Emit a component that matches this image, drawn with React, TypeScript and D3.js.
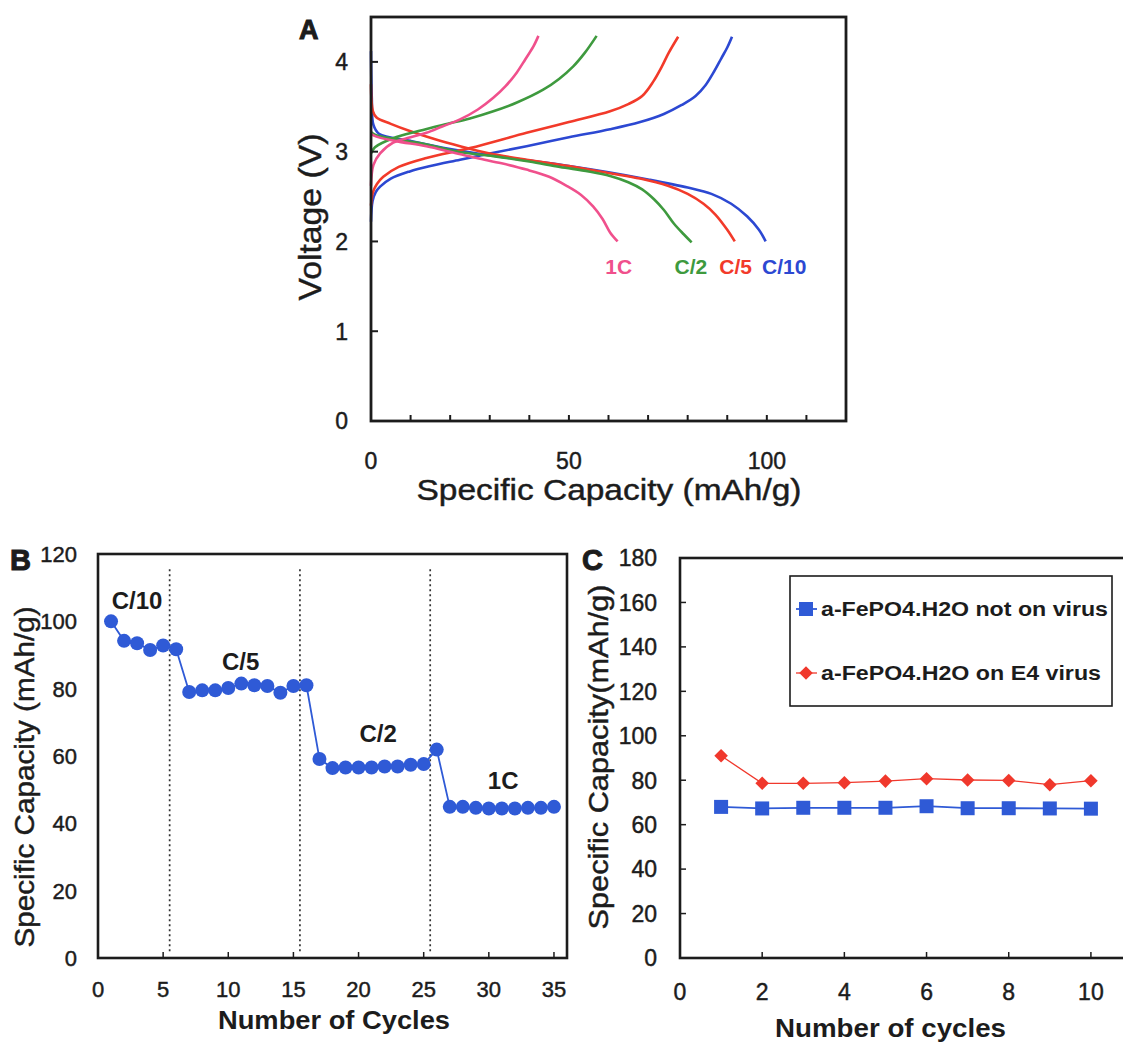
import React from "react";
import * as d3 from "d3";

// ---------- Panel A data: [capacity mAh/g, voltage V] ----------
const chargeC10: [number, number][] = [[0,2.22],[0.4,2.45],[1.2,2.55],[2.3,2.61],[5,2.7],[9.8,2.78],[15,2.84],[22.5,2.91],[30,2.98],[39.3,3.06],[50,3.16],[60.4,3.25],[68,3.33],[74,3.42],[78.5,3.52],[82,3.62],[84.5,3.74],[86.5,3.88],[88.5,4.04],[90,4.16],[91.2,4.28]];
const chargeC5: [number, number][] = [[0,2.4],[0.5,2.55],[1.5,2.64],[3.1,2.72],[7,2.83],[14,2.93],[25,3.04],[39.3,3.21],[50,3.33],[60.4,3.45],[65,3.53],[68.5,3.62],[71.3,3.78],[73.5,3.95],[75.2,4.1],[77.6,4.28]];
const chargeC2: [number, number][] = [[0,2.98],[1,3.05],[5.6,3.15],[12,3.23],[18.3,3.3],[25,3.37],[30.9,3.45],[37,3.55],[43.5,3.69],[47.5,3.81],[51.1,3.95],[54,4.1],[57,4.29]];
const charge1C: [number, number][] = [[0,2.62],[0.6,2.85],[2.3,2.98],[5.6,3.1],[10,3.16],[14,3.21],[18,3.28],[22.5,3.36],[27,3.47],[30.9,3.6],[34,3.73],[36.8,3.88],[39,4.03],[41,4.17],[42.3,4.29]];
const dischargeC10: [number, number][] = [[0,4.12],[0.2,3.6],[0.6,3.3],[2,3.2],[10,3.12],[20,3.03],[30,2.96],[40,2.9],[50,2.84],[60,2.77],[70,2.69],[80,2.6],[86,2.53],[91,2.42],[95,2.28],[98,2.13],[99.7,2.0]];
const dischargeC5: [number, number][] = [[0,3.75],[0.5,3.45],[1.4,3.38],[5,3.31],[9.8,3.23],[16,3.14],[22.5,3.06],[30,2.98],[39.3,2.91],[50,2.84],[60.4,2.76],[68,2.7],[75,2.62],[80,2.53],[84,2.42],[87,2.3],[90,2.13],[91.9,2.0]];
const dischargeC2: [number, number][] = [[0,3.22],[1,3.19],[6,3.14],[14,3.08],[22,3.0],[30.9,2.95],[40,2.89],[47.7,2.83],[55,2.78],[60.4,2.73],[65,2.66],[68.5,2.58],[71.5,2.47],[74,2.35],[76.5,2.2],[79,2.08],[81,1.99]];
const discharge1C: [number, number][] = [[0,3.2],[1.2,3.17],[6,3.12],[14,3.06],[20,3.0],[26.7,2.93],[33,2.87],[39.3,2.8],[45,2.72],[49.4,2.62],[53,2.52],[56.1,2.39],[58.5,2.25],[60.4,2.1],[62.3,2.0]];
const rateNamesA = ["1C", "C/2", "C/5", "C/10"];
const rateLabelCapA = [62.6, 80.8, 92.1, 104.4];
const rateColorsA = ["#f0508c", "#3e9a3e", "#f23a2a", "#2c48d2"];
const xTicksA = [0, 50, 100];
const xMinorA = [10, 20, 30, 40, 60, 70, 80, 90, 110];
const yTicksA = [0, 1, 2, 3, 4];

// ---------- Panel B data ----------
const cyclesB = Array.from({ length: 35 }, (_, i) => i + 1);
const capacityB = [100, 94.2, 93.5, 91.5, 92.8, 91.7, 79, 79.5, 79.5, 80.2, 81.5, 81, 80.8, 78.8, 80.8, 81, 59.1, 56.4, 56.6, 56.6, 56.6, 56.9, 56.9, 57.4, 57.6, 61.9, 44.9, 44.9, 44.6, 44.4, 44.4, 44.4, 44.6, 44.6, 44.9];
const dividersB = [5.5, 15.5, 25.5];
const rateLabelsB = ["C/10", "C/5", "C/2", "1C"];
const rateLabelPosB: [number, number][] = [[3, 106.3], [10.95, 88], [21.5, 66.7], [31.1, 52.9]];
const xTicksB = [0, 5, 10, 15, 20, 25, 30, 35];
const yTicksB = [0, 20, 40, 60, 80, 100, 120];

// ---------- Panel C data ----------
const cyclesC = [1, 2, 3, 4, 5, 6, 7, 8, 9, 10];
const notOnVirus = [68, 67.3, 67.6, 67.6, 67.6, 68.3, 67.4, 67.4, 67.3, 67.2];
const onE4Virus = [91, 78.6, 78.6, 78.9, 79.6, 80.7, 80.1, 79.9, 78, 79.8];
const legendC = ["a-FePO4.H2O not on virus", "a-FePO4.H2O on E4 virus"];
const xTicksC = [0, 2, 4, 6, 8, 10];
const yTicksC = [0, 20, 40, 60, 80, 100, 120, 140, 160, 180];

const FONT = "'Liberation Sans', Arial, sans-serif";
const INK = "#1c1c1c";

const T = (p: any) => (
  <text fill={INK} stroke={INK} strokeWidth={0.45} {...p} />
);

export default function App() {
  // ---------------- Panel A ----------------
  const ax = d3.scaleLinear().domain([0, 120]).range([371, 846]);
  const ay = d3.scaleLinear().domain([0, 4.5]).range([421, 17]);
  const lineA = d3.line<[number, number]>().x((d) => ax(d[0])).y((d) => ay(d[1])).curve(d3.curveCatmullRom.alpha(0.5));
  const curvesA = [
    { d: dischargeC10, c: rateColorsA[3] },
    { d: chargeC10, c: rateColorsA[3] },
    { d: dischargeC5, c: rateColorsA[2] },
    { d: chargeC5, c: rateColorsA[2] },
    { d: dischargeC2, c: rateColorsA[1] },
    { d: chargeC2, c: rateColorsA[1] },
    { d: discharge1C, c: rateColorsA[0] },
    { d: charge1C, c: rateColorsA[0] },
  ];

  // ---------------- Panel B ----------------
  const bx = d3.scaleLinear().domain([0, 36]).range([98, 567]);
  const by = d3.scaleLinear().domain([0, 120]).range([958, 554]);
  const lineB = d3.line<number>().x((_, i) => bx(cyclesB[i])).y((d) => by(d));

  // ---------------- Panel C ----------------
  const cx = d3.scaleLinear().domain([0, 11]).range([680, 1132]);
  const cy = d3.scaleLinear().domain([0, 180]).range([958, 558]);
  const lineC = d3.line<number>().x((_, i) => cx(cyclesC[i])).y((d) => cy(d));
  const blue = "#2f5ad6";
  const red = "#f0382c";
  const diamond = d3.symbol(d3.symbolSquare, 92)() || "";

  return (
    <svg width={1123} height={1044} style={{ position: "absolute", left: 0, top: 0, background: "#fff" }} fontFamily={FONT}>
      <rect x={0} y={0} width={1123} height={1044} fill="#fff" />
      {/* ============ Panel A ============ */}
      <g>
        {curvesA.map((c, i) => (
          <path key={i} d={lineA(c.d) || ""} fill="none" stroke={c.c} strokeWidth={2.6} strokeLinejoin="round" />
        ))}
        <rect x={ax(0)} y={ay(4.5)} width={ax(120) - ax(0)} height={ay(0) - ay(4.5)} fill="none" stroke={INK} strokeWidth={2.8} />
        {yTicksA.map((t) => (
          <g key={t}>
            <line x1={ax(0)} x2={ax(0) + 7} y1={ay(t)} y2={ay(t)} stroke={INK} strokeWidth={2} />
            <T x={348} y={ay(t)} dy="0.36em" textAnchor="end" fontSize={23}>{t}</T>
          </g>
        ))}
        {[...xTicksA, ...xMinorA].map((t) => (
          <line key={t} x1={ax(t)} x2={ax(t)} y1={ay(0)} y2={ay(0) - 6} stroke={INK} strokeWidth={2} />
        ))}
        {xTicksA.map((t) => (
          <T key={t} x={ax(t)} y={469} textAnchor="middle" fontSize={23}>{t}</T>
        ))}
        <T x={609} y={500} textAnchor="middle" fontSize={30} textLength={385} lengthAdjust="spacingAndGlyphs">Specific Capacity (mAh/g)</T>
        <T transform={`translate(321,217) rotate(-90)`} textAnchor="middle" fontSize={32} textLength={167} lengthAdjust="spacingAndGlyphs">Voltage (V)</T>
        <text x={299} y={39} fontSize={27} fontWeight={900} fill={INK} stroke={INK} strokeWidth={1}>A</text>
        {rateNamesA.map((n, i) => (
          <text key={n} x={ax(rateLabelCapA[i])} y={ay(1.72)} dy="0.36em" textAnchor="middle" fontSize={21} fontWeight="bold" fill={rateColorsA[i]}>{n}</text>
        ))}
      </g>

      {/* ============ Panel B ============ */}
      <g>
        <rect x={bx(0)} y={by(120)} width={bx(36) - bx(0)} height={by(0) - by(120)} fill="none" stroke={INK} strokeWidth={2.6} />
        {dividersB.map((d) => (
          <line key={d} x1={bx(d)} x2={bx(d)} y1={by(115.5)} y2={by(1.8)} stroke="#333" strokeWidth={1.7} strokeDasharray="2,3" />
        ))}
        {xTicksB.map((t) => (
          <g key={t}>
            <line x1={bx(t)} x2={bx(t)} y1={by(0)} y2={by(0) - 6} stroke={INK} strokeWidth={1.5} />
            <T x={bx(t)} y={997} textAnchor="middle" fontSize={22}>{t}</T>
          </g>
        ))}
        {yTicksB.map((t) => (
          <T key={t} x={77} y={by(t)} dy="0.36em" textAnchor="end" fontSize={22}>{t}</T>
        ))}
        <path d={lineB(capacityB) || ""} fill="none" stroke={blue} strokeWidth={1.8} />
        {capacityB.map((v, i) => (
          <circle key={i} cx={bx(cyclesB[i])} cy={by(v)} r={7} fill={blue} />
        ))}
        {rateLabelsB.map((l, i) => (
          <text key={l} x={bx(rateLabelPosB[i][0])} y={by(rateLabelPosB[i][1])} dy="0.36em" textAnchor="middle" fontSize={24} fontWeight="bold" fill={INK}>{l}</text>
        ))}
        <text x={334} y={1029} textAnchor="middle" fontSize={25} fontWeight="bold" fill={INK} textLength={232} lengthAdjust="spacingAndGlyphs">Number of Cycles</text>
        <T transform={`translate(34,777) rotate(-90)`} textAnchor="middle" fontSize={28} textLength={341} lengthAdjust="spacingAndGlyphs">Specific Capacity (mAh/g)</T>
        <text x={10} y={570} fontSize={29} fontWeight={900} fill={INK} stroke={INK} strokeWidth={1}>B</text>
      </g>

      {/* ============ Panel C ============ */}
      <g>
        <rect x={cx(0)} y={cy(180)} width={cx(11) - cx(0)} height={cy(0) - cy(180)} fill="none" stroke={INK} strokeWidth={2.6} />
        {xTicksC.map((t) => (
          <g key={t}>
            <line x1={cx(t)} x2={cx(t)} y1={cy(0)} y2={cy(0) - 6} stroke={INK} strokeWidth={1.5} />
            <T x={cx(t)} y={1000} textAnchor="middle" fontSize={23}>{t}</T>
          </g>
        ))}
        {yTicksC.map((t) => (
          <g key={t}>
            <line x1={cx(0)} x2={cx(0) + 6} y1={cy(t)} y2={cy(t)} stroke={INK} strokeWidth={1.5} />
            <T x={657} y={cy(t)} dy="0.36em" textAnchor="end" fontSize={23}>{t}</T>
          </g>
        ))}
        <path d={lineC(notOnVirus) || ""} fill="none" stroke={blue} strokeWidth={1.8} />
        {notOnVirus.map((v, i) => (
          <rect key={i} x={cx(cyclesC[i]) - 7} y={cy(v) - 7} width={14} height={14} fill={blue} />
        ))}
        <path d={lineC(onE4Virus) || ""} fill="none" stroke={red} strokeWidth={1.3} />
        {onE4Virus.map((v, i) => (
          <path key={i} d={diamond} transform={`translate(${cx(cyclesC[i])},${cy(v)}) rotate(45)`} fill={red} />
        ))}
        {/* legend */}
        <rect x={790} y={576} width={322} height={130} fill="#fff" stroke={INK} strokeWidth={1.6} />
        <line x1={796} x2={817} y1={609} y2={609} stroke={blue} strokeWidth={1.8} />
        <rect x={799} y={602} width={14} height={14} fill={blue} />
        <text x={821} y={609} dy="0.36em" fontSize={20} fontWeight="bold" fill={INK} textLength={287} lengthAdjust="spacingAndGlyphs">{legendC[0]}</text>
        <line x1={796} x2={817} y1={673} y2={673} stroke={red} strokeWidth={1.3} />
        <path d={diamond} transform="translate(806,673) rotate(45)" fill={red} />
        <text x={821} y={673} dy="0.36em" fontSize={20} fontWeight="bold" fill={INK} textLength={280} lengthAdjust="spacingAndGlyphs">{legendC[1]}</text>
        <text x={890.5} y={1037} textAnchor="middle" fontSize={25} fontWeight="bold" fill={INK} textLength={231} lengthAdjust="spacingAndGlyphs">Number of cycles</text>
        <T transform={`translate(608,757) rotate(-90)`} textAnchor="middle" fontSize={28} textLength={345} lengthAdjust="spacingAndGlyphs">Specific Capacity(mAh/g)</T>
        <text x={582} y={570} fontSize={29} fontWeight={900} fill={INK} stroke={INK} strokeWidth={1}>C</text>
      </g>
    </svg>
  );
}
